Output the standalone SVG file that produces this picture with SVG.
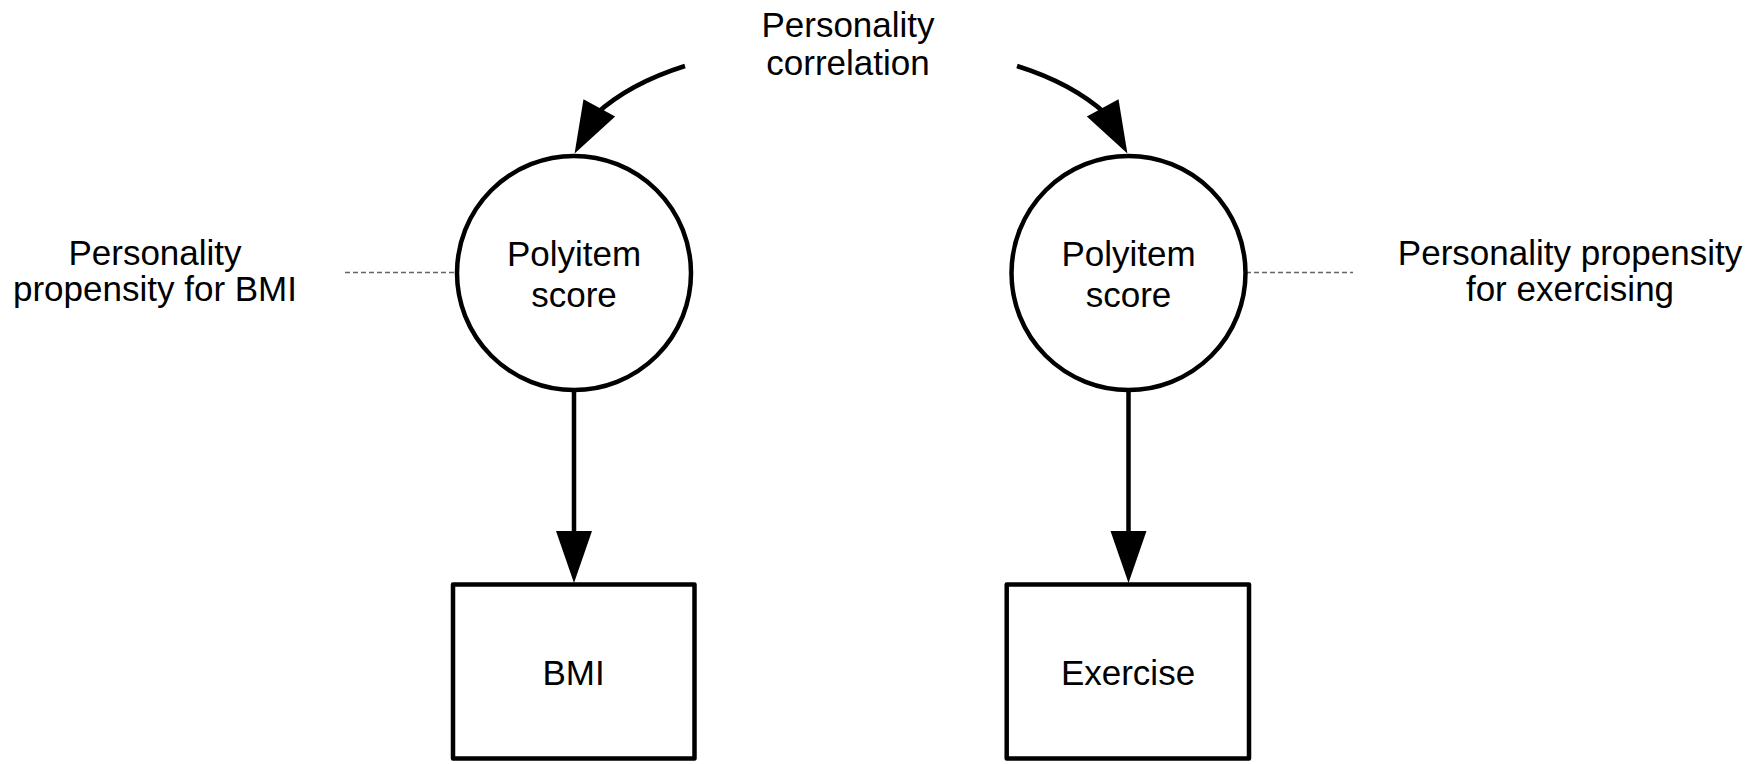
<svg xmlns="http://www.w3.org/2000/svg" width="1752" height="764" viewBox="0 0 1752 764">
<style>
text{font-family:"Liberation Sans",Arial,sans-serif;font-size:35px;fill:#000;text-anchor:middle}
.node{fill:#fff;stroke:#000;stroke-width:4.5;stroke-linejoin:round}
.edge{fill:none;stroke:#000;stroke-width:4.5}
.dot{fill:none;stroke:#666;stroke-width:1.5;stroke-dasharray:5 3}
</style>
<defs>
<marker id="arr" markerUnits="userSpaceOnUse" markerWidth="60" markerHeight="40" viewBox="0 -20 56 40" refX="0" refY="0" orient="auto">
<path d="M0,-18 L52,0 L0,18 z" fill="#000"/>
</marker>
<marker id="arrL" markerUnits="userSpaceOnUse" markerWidth="60" markerHeight="40" viewBox="0 -20 56 40" refX="7" refY="0" orient="118.4">
<path d="M0,-18 L52,0 L0,18 z" fill="#000"/>
</marker>
<marker id="arrR" markerUnits="userSpaceOnUse" markerWidth="60" markerHeight="40" viewBox="0 -20 56 40" refX="7" refY="0" orient="61.6">
<path d="M0,-18 L52,0 L0,18 z" fill="#000"/>
</marker>
</defs>
<rect width="1752" height="764" fill="#fff"/>
<g id="connectors">
<path class="edge" d="M685,66 C650,77 618,94 596,114" marker-end="url(#arrL)"/>
<path class="edge" d="M1017,66 C1052,77 1084,94 1106,114" marker-end="url(#arrR)"/>
<line class="edge" x1="574" y1="390" x2="574" y2="531" marker-end="url(#arr)"/>
<line class="edge" x1="1128.5" y1="390" x2="1128.5" y2="531" marker-end="url(#arr)"/>
<line class="dot" x1="345" y1="272.5" x2="456" y2="272.5"/>
<line class="dot" x1="1246" y1="272.5" x2="1353" y2="272.5"/>
</g>
<g id="label-correlation">
<text x="848" y="37">Personality</text>
<text x="848" y="75">correlation</text>
</g>
<g id="label-bmi-propensity">
<text x="155" y="265">Personality</text>
<text x="155" y="301">propensity for BMI</text>
</g>
<g id="label-exercise-propensity">
<text x="1570" y="265">Personality propensity</text>
<text x="1570" y="301">for exercising</text>
</g>
<g id="polyitem-left">
<circle class="node" cx="574" cy="273" r="117"/>
<text x="574" y="266">Polyitem</text>
<text x="574" y="307">score</text>
</g>
<g id="polyitem-right">
<circle class="node" cx="1128.5" cy="273" r="117"/>
<text x="1128.5" y="266">Polyitem</text>
<text x="1128.5" y="307">score</text>
</g>
<g id="bmi">
<rect class="node" x="453" y="584.5" width="241.5" height="174"/>
<text x="573.5" y="685">BMI</text>
</g>
<g id="exercise">
<rect class="node" x="1006.7" y="584.5" width="242.3" height="174"/>
<text x="1128" y="685">Exercise</text>
</g>
</svg>
